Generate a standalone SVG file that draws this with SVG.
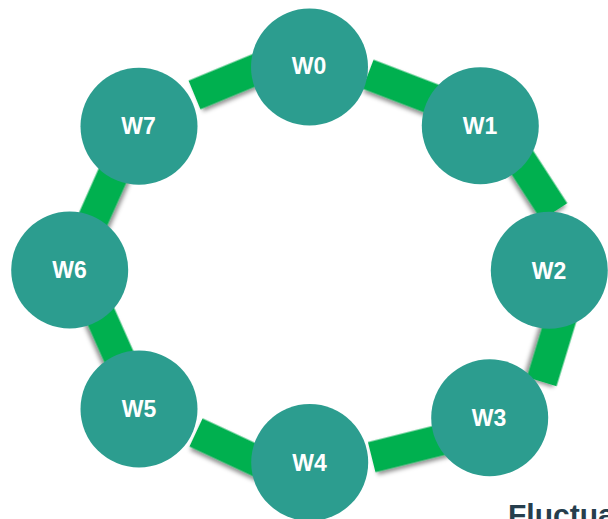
<svg xmlns="http://www.w3.org/2000/svg" width="608" height="519" viewBox="0 0 608 519">
  <style>
    .node circle { fill: #2c9d8f; }
    .node text { fill: #ffffff; font-family: "Liberation Sans", Arial, sans-serif; font-weight: bold; font-size: 23px; text-anchor: middle; }
    .bar { fill: #00b050; filter: url(#shadow); }
    .title { fill: #263e4d; font-family: "Liberation Sans", Arial, sans-serif; font-weight: bold; font-size: 30px; }
  </style>
  <defs>
    <filter id="shadow" x="-30%" y="-30%" width="160%" height="160%">
      <feDropShadow dx="2" dy="3" stdDeviation="2" flood-color="#000000" flood-opacity="0.45"/>
    </filter>
  </defs>
  <rect width="608" height="519" fill="#ffffff"/>
  <g id="connectors">
    <!-- W7-W0 -->
    <rect class="bar" x="0" y="-15.5" width="80" height="31" transform="translate(194.5,95) rotate(-22.5)"/>
    <!-- W0-W1 -->
    <rect class="bar" x="0" y="-15.5" width="80" height="31" transform="translate(368,74.2) rotate(21)"/>
    <!-- W1-W2 -->
    <rect class="bar" x="0" y="-15.5" width="80" height="31" transform="translate(510.7,144.6) rotate(57)"/>
    <!-- W2-W3 -->
    <rect class="bar" x="0" y="-15.5" width="80" height="31" transform="translate(565.1,305.2) rotate(107)"/>
    <!-- W3-W4 -->
    <rect class="bar" x="0" y="-15.5" width="80" height="31" transform="translate(371.7,457.2) rotate(-14)"/>
    <!-- W4-W5 -->
    <rect class="bar" x="0" y="-15.5" width="80" height="31" transform="translate(196,432.5) rotate(25)"/>
    <!-- W5-W6 -->
    <rect class="bar" x="-55" y="-15.5" width="110" height="31" transform="translate(107,330) rotate(66)"/>
    <!-- W6-W7 -->
    <rect class="bar" x="-55" y="-15.5" width="110" height="31" transform="translate(103,197) rotate(-66)"/>
  </g>
  <g id="W0" class="node"><circle cx="309.5" cy="67" r="58.5"/><text x="309" y="74.3">W0</text></g>
  <g id="W1" class="node"><circle cx="480.3" cy="125.8" r="58.5"/><text x="480" y="134">W1</text></g>
  <g id="W2" class="node"><circle cx="549.3" cy="270.3" r="58.5"/><text x="549" y="278.5">W2</text></g>
  <g id="W3" class="node"><circle cx="489.7" cy="417.7" r="58.5"/><text x="489" y="425.5">W3</text></g>
  <g id="W4" class="node"><circle cx="309.7" cy="462.5" r="58.5"/><text x="309.5" y="470.5">W4</text></g>
  <g id="W5" class="node"><circle cx="139" cy="409" r="58.5"/><text x="139" y="417">W5</text></g>
  <g id="W6" class="node"><circle cx="69.7" cy="270" r="58.5"/><text x="69.5" y="278">W6</text></g>
  <g id="W7" class="node"><circle cx="139" cy="126.3" r="58.5"/><text x="138.5" y="134.3">W7</text></g>
  <text class="title" x="508" y="524.5">Fluctua</text>
</svg>
